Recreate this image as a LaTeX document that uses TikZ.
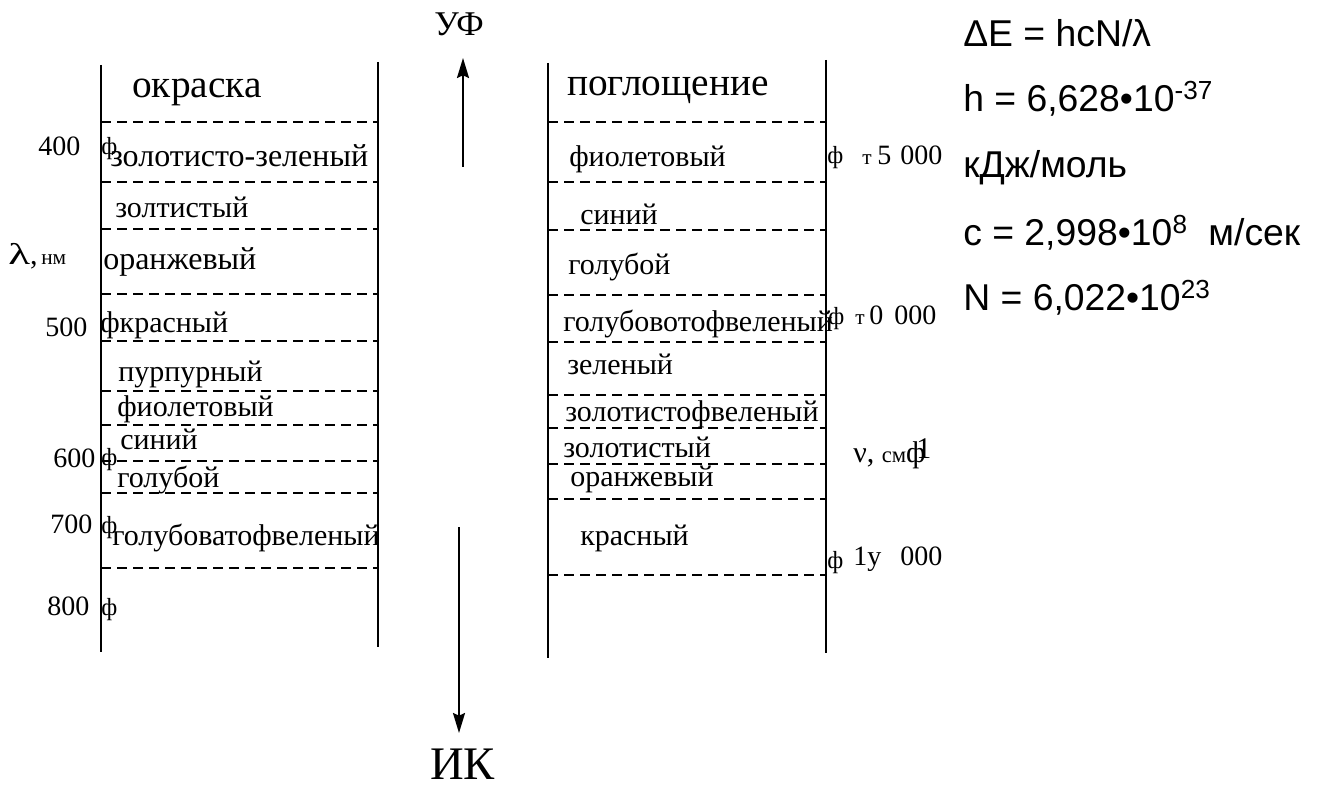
\documentclass[tikz,border=0pt]{standalone}
\usepackage{fontspec}
\setmainfont{Liberation Serif}
\newfontfamily\sansf{Liberation Sans}
\usetikzlibrary{arrows.meta}
\begin{document}
\begin{tikzpicture}[x=0.75pt,y=-0.75pt,
  frame/.style={line width=1.4pt},
  sep/.style={line width=1.4pt, dash pattern=on 7.5pt off 4.5pt},
  lbl/.style={anchor=base west, inner sep=0pt, font=\fontsize{22.5}{24}\selectfont},
  big/.style={anchor=base west, inner sep=0pt, font=\fontsize{24}{26}\selectfont},
  num/.style={anchor=base west, inner sep=0pt, font=\fontsize{21}{24}\selectfont},
  sml/.style={anchor=base west, inner sep=0pt, font=\fontsize{16}{18}\selectfont},
  mk/.style={anchor=base west, inner sep=0pt, font=\fontsize{18.5}{20}\selectfont},
  ttl/.style={anchor=base west, inner sep=0pt, font=\fontsize{29.5}{32}\selectfont},
  frm/.style={anchor=base west, inner sep=0pt, font=\sansf\fontsize{28}{30}\selectfont},
  arr/.style={line width=1.4pt, -{Stealth[length=15pt,width=9pt,inset=2pt]}}]
\useasboundingbox (0,0) rectangle (1324,787);

% ---------- left box (окраска) ----------
\coordinate (L1t) at (101,65);  \coordinate (L1b) at (101,652);
\coordinate (L2t) at (378,62);  \coordinate (L2b) at (378,647);
\draw[frame] (L1t) -- (L1b);
\draw[frame] (L2t) -- (L2b);
\foreach \yy in {122,182,229,294,341,391,425,461,493,568}
  \draw[sep] (101,\yy) -- (378,\yy);

\node[ttl] (okr) at (132,98) {окраска};
\node[num] (n400) at (38,156) {400};
\node[mk]  (f400) at (101,155) {ф};
\node[big] (c1) at (110,167) {золотисто-зеленый};
\node[lbl] (c2) at (115,218) {золтистый};
\node[lbl] (lam) at (8,265) {\scalebox{1.5}[1]{λ},};
\node[sml] (nm) at (41,265) {нм};
\node[big] (c3) at (103,270) {оранжевый};
\node[num] (n500) at (45,337) {500};
\node[lbl] (c4) at (100,333) {фкрасный};
\node[lbl] (c5) at (118,382) {пурпурный};
\node[lbl] (c6) at (117,417) {фиолетовый};
\node[lbl] (c7) at (120,450) {синий};
\node[num] (n600) at (53,468) {600};
\node[mk]  (f600) at (101,466) {ф};
\node[lbl] (c8) at (117,488) {голубой};
\node[num] (n700) at (50,533) {700};
\node[mk]  (f700) at (101,533) {ф};
\node[lbl] (c9) at (112,545) {голубоватофвеленый};
\node[num] (n800) at (47,615) {800};
\node[mk]  (f800) at (101,615) {ф};

% ---------- right box (поглощение) ----------
\coordinate (R1t) at (548,63);  \coordinate (R1b) at (548,658);
\coordinate (R2t) at (826,60);  \coordinate (R2b) at (826,653);
\draw[frame] (R1t) -- (R1b);
\draw[frame] (R2t) -- (R2b);
\foreach \yy in {122,182,230,295,342,395,428,464,499,575}
  \draw[sep] (548,\yy) -- (826,\yy);

\node[ttl] (pog) at (567,96) {поглощение};
\node[lbl] (a1) at (569,167) {фиолетовый};
\node[lbl] (a2) at (580,225) {синий};
\node[lbl] (a3) at (568,275) {голубой};
\node[lbl] (a4) at (563,332) {голубовотофвеленый};
\node[lbl] (a5) at (567,375) {зеленый};
\node[lbl] (a6) at (565,422) {золотистофвеленый};
\node[lbl] (a7) at (563,458) {золотистый};
\node[lbl] (a8) at (570,487) {оранжевый};
\node[lbl] (a9) at (580,545) {красный};

\node[mk]  (g1) at (827,164) {ф};
\node[sml] (t1) at (862,165) {т};
\node[num] (v1) at (877,165) {5};
\node[num] (w1) at (900,165) {000};
\node[mk]  (g2) at (828,325) {ф};
\node[sml] (t2) at (855,325) {т};
\node[num] (v2) at (869,325) {0};
\node[num] (w2) at (894,325) {000};
\node[mk]  (g3) at (827,568) {ф};
\node[num] (v3) at (853,565) {1у};
\node[num] (w3) at (900,565) {000};
\node[lbl] (nu) at (853,463) {ν, {\fontsize{17}{17}\selectfont см}ф\kern-7pt\raisebox{3pt}{1}};

% ---------- arrows ----------
\coordinate (uvS) at (463,167); \coordinate (uvE) at (463,58);
\draw[arr] (uvS) -- (uvE);
\node[anchor=base west, inner sep=0pt, font=\fontsize{26}{28}\selectfont] (uv) at (434,36) {УФ};
\coordinate (irS) at (459,527); \coordinate (irE) at (459,733);
\draw[arr] (irS) -- (irE);
\node[anchor=base west, inner sep=0pt, font=\fontsize{35}{38}\selectfont] (ir) at (430,779) {ИК};

% ---------- formulas ----------
\node[frm] (e1) at (963,47) {ΔE = hcN/λ};
\node[frm] (e2) at (963,112) {h = 6,628•10\textsuperscript{-37}};
\node[frm] (e3) at (963,178) {кДж/моль};
\node[frm] (e4) at (963,246) {c = 2,998•10\textsuperscript{8}\ \ м/сек};
\node[frm] (e5) at (963,311) {N = 6,022•10\textsuperscript{23}};
\end{tikzpicture}
\end{document}
